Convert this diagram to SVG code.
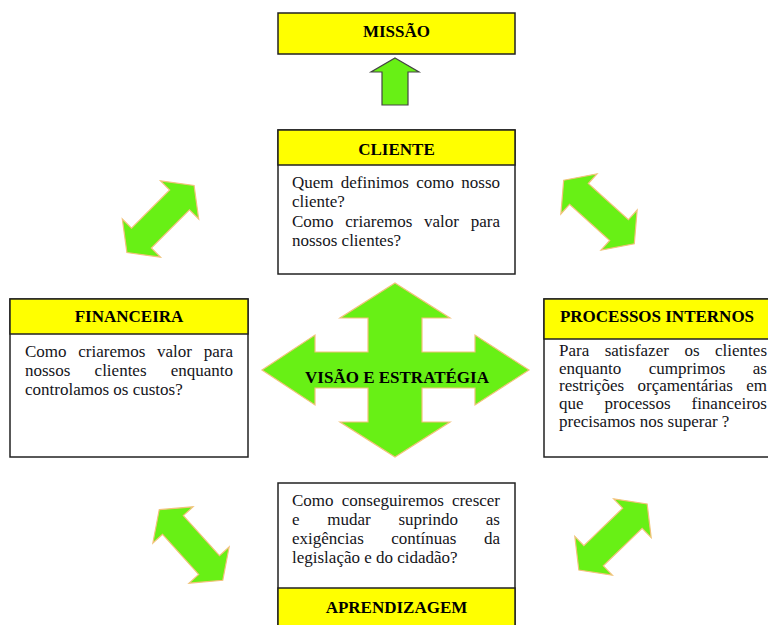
<svg xmlns="http://www.w3.org/2000/svg" width="768" height="625" viewBox="0 0 768 625">
<defs>
<style>
.box{fill:#fff;stroke:#222;stroke-width:1.5}
.hdr{fill:#ffff00;stroke:#222;stroke-width:1.5}
.ttl{font-family:"Liberation Serif",serif;font-size:17px;font-weight:bold;fill:#000;text-anchor:middle}
.body{font-family:"Liberation Serif",serif;font-size:17px;fill:#141420}
.e{text-anchor:end}
.arr{fill:#68f015;stroke:#f2c27a;stroke-width:1.2;stroke-linejoin:miter}
</style>
<path id="dbl" d="M-47.5,0 L-27,-27 L-27,-14 L27,-14 L27,-27 L47.5,0 L27,27 L27,14 L-27,14 L-27,27 Z"/>
</defs>
<rect width="768" height="625" fill="#fff"/>

<g id="missao">
<rect class="hdr" x="278" y="13" width="237" height="41"/>
<text class="ttl" x="396.5" y="37">MISSÃO</text>
</g>

<g id="cliente">
<rect class="box" x="278" y="130" width="237" height="144"/>
<rect class="hdr" x="278" y="130" width="237" height="35"/>
<text class="ttl" x="396.5" y="155">CLIENTE</text>
<text class="body"><tspan x="292" y="188">Quem</tspan><tspan x="340.8" y="188">definimos</tspan><tspan x="416.2" y="188">como</tspan><tspan class="e" x="500" y="188">nosso</tspan></text>
<text class="body" x="292" y="207">cliente?</text>
<text class="body"><tspan x="292" y="227">Como</tspan><tspan x="345.3" y="227">criaremos</tspan><tspan x="424" y="227">valor</tspan><tspan class="e" x="500" y="227">para</tspan></text>
<text class="body" x="292" y="246">nossos clientes?</text>
</g>

<g id="financeira">
<rect class="box" x="10" y="299" width="238" height="158"/>
<rect class="hdr" x="10" y="299" width="238" height="35"/>
<text class="ttl" x="129" y="322">FINANCEIRA</text>
<text class="body"><tspan x="25" y="357">Como</tspan><tspan x="78.3" y="357">criaremos</tspan><tspan x="157" y="357">valor</tspan><tspan class="e" x="233" y="357">para</tspan></text>
<text class="body"><tspan x="25" y="376">nossos</tspan><tspan x="94.6" y="376">clientes</tspan><tspan class="e" x="233" y="376">enquanto</tspan></text>
<text class="body" x="25" y="395">controlamos os custos?</text>
</g>

<g id="processos">
<rect class="box" x="544" y="299" width="230" height="158"/>
<rect class="hdr" x="544" y="299" width="230" height="40"/>
<text class="ttl" x="657" y="322">PROCESSOS INTERNOS</text>
<text class="body"><tspan x="559" y="356">Para</tspan><tspan x="604.7" y="356">satisfazer</tspan><tspan x="684.4" y="356">os</tspan><tspan class="e" x="767" y="356">clientes</tspan></text>
<text class="body"><tspan x="559" y="373.5">enquanto</tspan><tspan x="648.8" y="373.5">cumprimos</tspan><tspan class="e" x="767" y="373.5">as</tspan></text>
<text class="body"><tspan x="559" y="391">restrições</tspan><tspan x="637.5" y="391">orçamentárias</tspan><tspan class="e" x="767" y="391">em</tspan></text>
<text class="body"><tspan x="559" y="409">que</tspan><tspan x="604.5" y="409">processos</tspan><tspan class="e" x="767" y="409">financeiros</tspan></text>
<text class="body" x="559" y="427">precisamos nos superar ?</text>
</g>

<g id="aprendizagem">
<rect class="box" x="278" y="483" width="237" height="150"/>
<rect class="hdr" x="278" y="588" width="237" height="45"/>
<text class="ttl" x="396.5" y="613">APRENDIZAGEM</text>
<text class="body"><tspan x="292" y="506">Como</tspan><tspan x="341.8" y="506">conseguiremos</tspan><tspan class="e" x="500" y="506">crescer</tspan></text>
<text class="body"><tspan x="292" y="525">e</tspan><tspan x="327.3" y="525">mudar</tspan><tspan x="398.5" y="525">suprindo</tspan><tspan class="e" x="500" y="525">as</tspan></text>
<text class="body"><tspan x="292" y="544">exigências</tspan><tspan x="391.3" y="544">contínuas</tspan><tspan class="e" x="500" y="544">da</tspan></text>
<text class="body" x="292" y="563">legislação e do cidadão?</text>
</g>

<g id="visao">
<polygon class="arr" points="395,283 450,318 422,318 422,352 475,352 475,335 529,370 475,405 475,388 422,388 422,422 450,422 395,457 340,422 368,422 368,388 315,388 315,405 262,370 315,335 315,352 368,352 368,318 340,318"/>
<text class="ttl" x="397" y="383">VISÃO E ESTRATÉGIA</text>
</g>

<g id="connectors">
<polygon points="395,58 419,72 408,72 408,105 382,105 382,72 371,72" fill="#68f015" stroke="#444" stroke-width="1.2"/>
<use href="#dbl" class="arr" transform="translate(160.5,219) rotate(-45)"/>
<use href="#dbl" class="arr" transform="translate(599,212) rotate(42)"/>
<use href="#dbl" class="arr" transform="translate(191,545) rotate(48)"/>
<use href="#dbl" class="arr" transform="translate(613,537) rotate(-44)"/>
</g>
</svg>
